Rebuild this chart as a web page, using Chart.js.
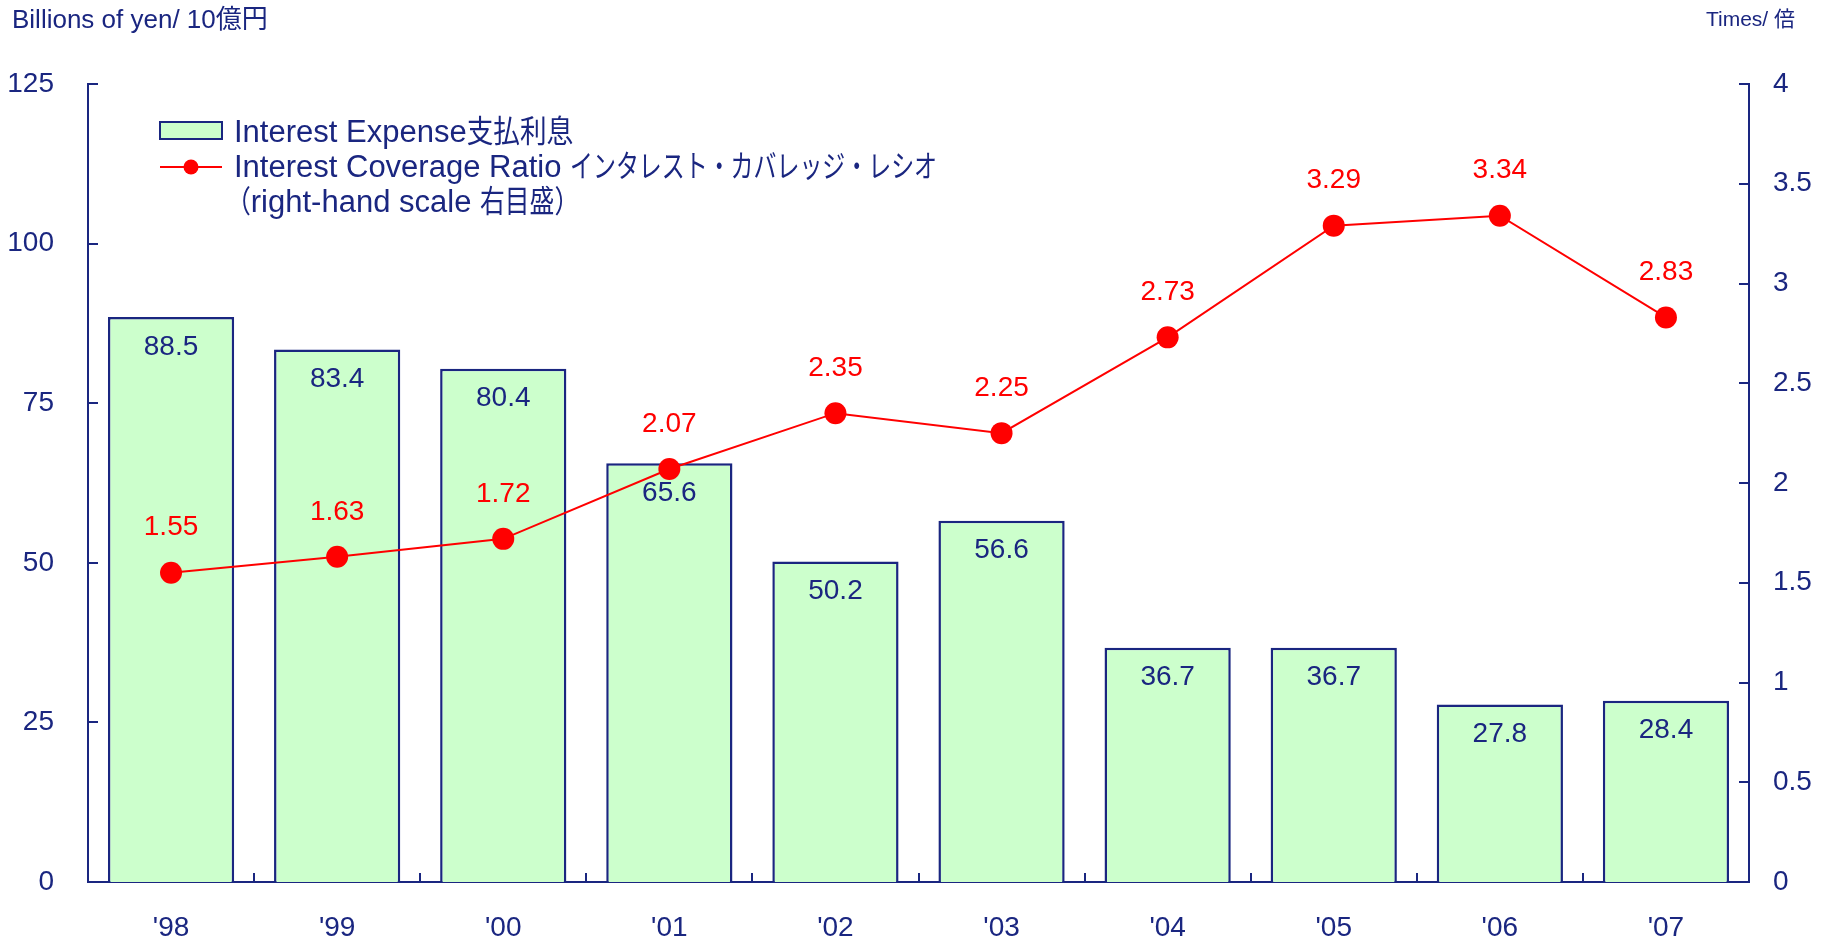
<!DOCTYPE html>
<html>
<head>
<meta charset="utf-8">
<script src="https://cdn.jsdelivr.net/npm/chart.js@4/dist/chart.umd.min.js"></script>
<style>
  html, body { margin: 0; padding: 0; background: #ffffff; }
  #wrap { width: 1832px; height: 936px; position: relative; }
</style>
</head>
<body>
<div id="wrap"><canvas id="c"></canvas></div>
<script>
const categories = ["'98", "'99", "'00", "'01", "'02", "'03", "'04", "'05", "'06", "'07"];
const interestExpense = [88.5, 83.4, 80.4, 65.6, 50.2, 56.6, 36.7, 36.7, 27.8, 28.4];
const coverageRatio = [1.55, 1.63, 1.72, 2.07, 2.35, 2.25, 2.73, 3.29, 3.34, 2.83];
const leftTicks = [0, 25, 50, 75, 100, 125];
const rightTicks = [0, 0.5, 1, 1.5, 2, 2.5, 3, 3.5, 4];
// legend texts split into [text, isCJK] pieces
const legendBar = [["Interest Expense", false], ["支払利息", true]];
const legendLine1 = [["Interest Coverage Ratio ", false], ["インタレスト・カバレッジ・レシオ", true]];
const legendLine2 = [["（", true], ["right-hand scale ", false], ["右目盛）", true]];
const leftTitle = "Billions of yen/ 10億円";
const rightTitle = "Times/ 倍";

const NAVY = '#1a2680';
const RED = '#ff0000';
const GREEN = '#ccffcc';
const FONT = "'Liberation Sans', Arial, 'Noto Sans CJK JP', sans-serif";

function drawPieces(ctx, pieces, x, y, cjkScale) {
  let cx = x;
  pieces.forEach(([t, cjk]) => {
    const s = cjk ? cjkScale : 1;
    ctx.save();
    ctx.translate(cx, y);
    ctx.scale(s, 1);
    ctx.fillText(t, 0, 0);
    ctx.restore();
    cx += ctx.measureText(t).width * s;
  });
}

const customPlugin = {
  id: 'custom',
  afterDatasetsDraw(chart) {
    const ctx = chart.ctx;
    ctx.save();
    ctx.textAlign = 'center';
    ctx.textBaseline = 'middle';
    ctx.font = '28px ' + FONT;
    const barMeta = chart.getDatasetMeta(0);
    ctx.fillStyle = NAVY;
    barMeta.data.forEach((el, i) => {
      ctx.fillText(interestExpense[i].toFixed(1), el.x, el.y + 30);
    });
    const lineMeta = chart.getDatasetMeta(1);
    ctx.fillStyle = RED;
    lineMeta.data.forEach((el, i) => {
      ctx.fillText(coverageRatio[i].toFixed(2), el.x, el.y - 45);
    });
    ctx.restore();
  },
  afterDraw(chart) {
    const ctx = chart.ctx;
    const a = chart.chartArea;
    const yL = chart.scales.y, yR = chart.scales.y1;
    ctx.save();
    ctx.strokeStyle = NAVY;
    ctx.lineWidth = 2;
    ctx.beginPath();
    leftTicks.forEach(v => {
      const p = Math.round(yL.getPixelForValue(v));
      ctx.moveTo(a.left, p); ctx.lineTo(a.left + 10, p);
    });
    rightTicks.forEach(v => {
      const p = Math.round(yR.getPixelForValue(v));
      ctx.moveTo(a.right, p); ctx.lineTo(a.right - 10, p);
    });
    const n = categories.length;
    const w = (a.right - a.left) / n;
    for (let k = 1; k < n; k++) {
      const x = Math.round(a.left + k * w);
      ctx.moveTo(x, a.bottom); ctx.lineTo(x, a.bottom - 9);
    }
    ctx.stroke();

    // titles
    ctx.fillStyle = NAVY;
    ctx.textBaseline = 'middle';
    ctx.font = '26px ' + FONT;
    ctx.textAlign = 'left';
    ctx.fillText(leftTitle, 12, 21);
    ctx.font = '21px ' + FONT;
    ctx.textAlign = 'right';
    ctx.fillText(rightTitle, 1795, 20);

    // legend
    ctx.fillStyle = GREEN;
    ctx.fillRect(160, 122, 62, 17);
    ctx.strokeStyle = NAVY;
    ctx.lineWidth = 2;
    ctx.strokeRect(160, 122, 62, 17);
    ctx.strokeStyle = RED;
    ctx.beginPath();
    ctx.moveTo(160, 167); ctx.lineTo(222, 167);
    ctx.stroke();
    ctx.fillStyle = RED;
    ctx.beginPath();
    ctx.arc(191, 167, 7.5, 0, Math.PI * 2);
    ctx.fill();

    ctx.fillStyle = NAVY;
    ctx.font = '31px ' + FONT;
    ctx.textAlign = 'left';
    drawPieces(ctx, legendBar, 234, 133, 0.86);
    drawPieces(ctx, legendLine1, 234, 168, 0.74);
    drawPieces(ctx, legendLine2, 226, 203, 0.8);
    ctx.restore();
  }
};

new Chart(document.getElementById('c'), {
  type: 'bar',
  data: {
    labels: categories,
    datasets: [
      {
        type: 'bar',
        label: 'Interest Expense支払利息',
        data: interestExpense,
        yAxisID: 'y',
        backgroundColor: GREEN,
        borderColor: NAVY,
        borderWidth: 2.5,
        categoryPercentage: 1,
        barPercentage: 0.76,
        order: 1
      },
      {
        type: 'line',
        label: 'Interest Coverage Ratio',
        data: coverageRatio,
        yAxisID: 'y1',
        borderColor: RED,
        backgroundColor: RED,
        borderWidth: 2,
        pointRadius: 11,
        pointBackgroundColor: RED,
        pointBorderColor: RED,
        pointBorderWidth: 0,
        tension: 0,
        order: 0
      }
    ]
  },
  options: {
    responsive: true,
    maintainAspectRatio: false,
    animation: false,
    layout: { padding: { top: 84, left: 0, right: 0, bottom: 0 } },
    plugins: { legend: { display: false }, tooltip: { enabled: false } },
    scales: {
      x: {
        grid: { display: false, drawTicks: false },
        border: { display: true, color: NAVY, width: 2 },
        ticks: { color: NAVY, font: { size: 28, family: FONT }, padding: 29, maxRotation: 0 },
        afterFit(s) { s.height = 54; }
      },
      y: {
        position: 'left',
        min: 0, max: 125,
        grid: { display: false, drawTicks: false },
        border: { display: true, color: NAVY, width: 2 },
        ticks: { stepSize: 25, color: NAVY, font: { size: 28, family: FONT }, padding: 34 },
        afterFit(s) { s.width = 88; }
      },
      y1: {
        position: 'right',
        min: 0, max: 4,
        grid: { display: false, drawTicks: false },
        border: { display: true, color: NAVY, width: 2 },
        ticks: { stepSize: 0.5, color: NAVY, font: { size: 28, family: FONT }, padding: 24,
                 callback: (v) => String(v) },
        afterFit(s) { s.width = 83; }
      }
    }
  },
  plugins: [customPlugin]
});
</script>
</body>
</html>
